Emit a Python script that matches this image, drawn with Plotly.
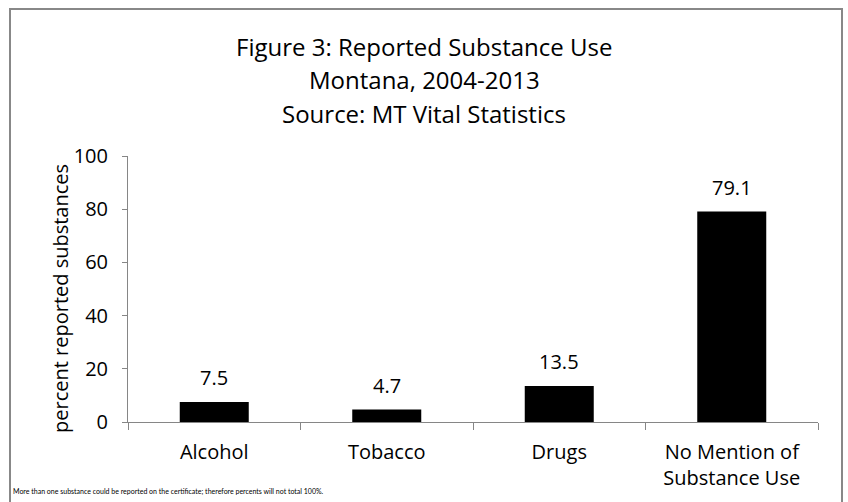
import plotly.graph_objects as go

categories = ["Alcohol", "Tobacco", "Drugs", "No Mention of<br>Substance Use"]
values = [7.5, 4.7, 13.5, 79.1]
value_labels = ["7.5", "4.7", "13.5", "79.1"]
y_ticks = [0, 20, 40, 60, 80, 100]
title_lines = ["Figure 3: Reported Substance Use", "Montana, 2004-2013", "Source: MT Vital Statistics"]
y_title = "percent reported substances"
footnote = "More than one substance could be reported on the certificate; therefore percents will not total 100%."

FONT = "Open Sans, sans-serif"
W, H = 848, 502
L, R, T, B = 128, 30, 156, 80
pw, ph = W - L - R, H - T - B

def px(x):
    return (x - L) / pw

def py(y):
    return (H - B - y) / ph

fig = go.Figure(go.Bar(
    x=categories, y=values,
    marker=dict(color="black", line=dict(width=0)),
    width=0.4,
))

annotations = []
for i, line in enumerate(title_lines):
    annotations.append(dict(
        text=line, xref="paper", yref="paper", x=px(424), y=py([46, 80, 113][i]),
        xanchor="center", yanchor="middle", showarrow=False,
        font=dict(size=24, family=FONT, color="black"),
    ))
for c, v, t in zip(categories, values, value_labels):
    annotations.append(dict(
        text=t, x=c, y=v, xref="x", yref="y", xanchor="center", yanchor="bottom",
        yshift=9, showarrow=False, font=dict(size=20, family=FONT, color="black"),
    ))
annotations.append(dict(
    text=y_title, xref="paper", yref="paper", x=px(60), y=py(299), textangle=-90,
    xanchor="center", yanchor="middle", showarrow=False,
    font=dict(size=20, family=FONT, color="black"),
))
annotations.append(dict(
    text=footnote, xref="paper", yref="paper", x=px(11), y=py(491),
    xanchor="left", yanchor="middle", showarrow=False,
    font=dict(size=7, family="Lato, sans-serif", color="black"),
))

fig.update_layout(
    width=W, height=H,
    margin=dict(l=L, r=R, t=T, b=B, autoexpand=False),
    paper_bgcolor="white", plot_bgcolor="white",
    showlegend=False,
    font=dict(family=FONT, color="black", size=20),
    xaxis=dict(
        showline=True, linecolor="#868686", linewidth=1,
        ticks="outside", tickson="boundaries", ticklen=7, tickcolor="#868686",
        tickfont=dict(size=20, family=FONT, color="black"), showgrid=False,
        ticklabelstandoff=12,
    ),
    yaxis=dict(
        range=[0, 100], tickvals=y_ticks, showline=True, linecolor="#868686", linewidth=1,
        ticks="outside", ticklen=5, tickcolor="#868686", showgrid=False, zeroline=False,
        tickfont=dict(size=20, family=FONT, color="black"), ticklabelstandoff=10,
    ),
    shapes=[dict(
        type="rect", xref="paper", yref="paper",
        x0=px(10), x1=px(842), y0=py(9), y1=py(520),
        line=dict(color="#888888", width=2), fillcolor="rgba(0,0,0,0)", layer="below",
    )],
    annotations=annotations,
)

fig.write_html("out.html")
